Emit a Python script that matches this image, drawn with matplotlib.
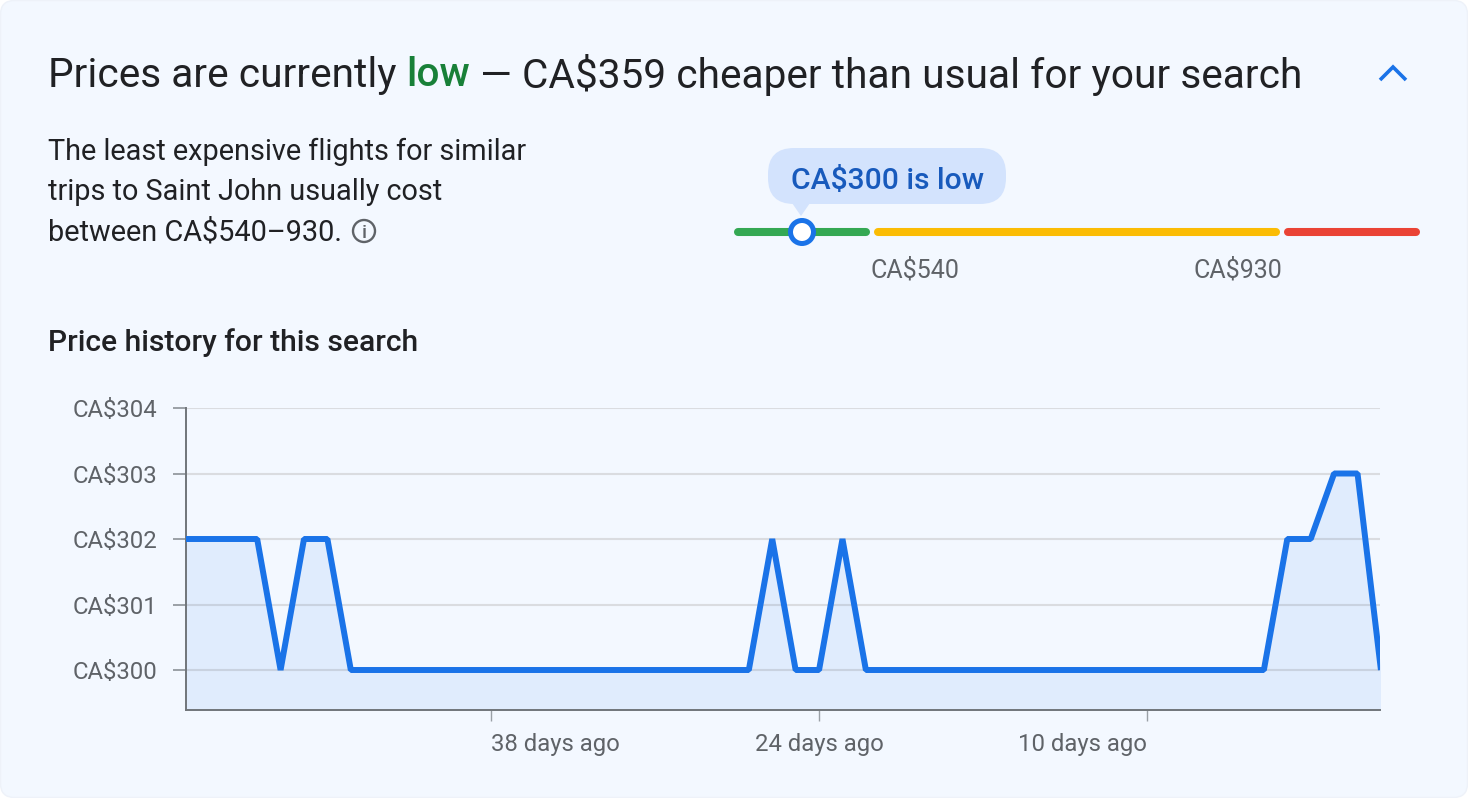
import matplotlib
matplotlib.use("Agg")
import matplotlib.pyplot as plt
from matplotlib.patches import FancyBboxPatch, Circle, Polygon
from matplotlib.ticker import FixedLocator

# ---------- data ----------
days_ago = list(range(52, -1, -1))
prices = [302, 302, 302, 302, 302, 300, 302, 302, 300, 300, 300,
          300, 300, 300, 300, 300, 300, 300, 300, 300, 300,
          300, 300, 300, 300, 300, 302, 300, 300, 302, 300,
          300, 300, 300, 300, 300, 300, 300, 300, 300, 300,
          300, 300, 300, 300, 300, 300, 300, 302, 302, 303,
          303, 300]
y_ticks = [300, 301, 302, 303, 304]
y_labels = ["CA$300", "CA$301", "CA$302", "CA$303", "CA$304"]
x_ticks = [38, 24, 10]
x_labels = ["38 days ago", "24 days ago", "10 days ago"]
title_parts = [("Prices are currently ", "#202124", "normal"), ("low", "#188038", "medium"),
               (" — CA$359 cheaper than usual for your search", "#202124", "normal")]
body_lines = ["The least expensive flights for similar",
              "trips to Saint John usually cost",
              "between CA$540–930."]
bar_segments = [(734, 870, "#34a853"), (874, 1280, "#fbbc04"), (1284, 1420, "#ea4335")]
bar_labels = [(915, "CA$540"), (1238, "CA$930")]

W, H = 1468, 798
FONT = "Roboto"
INK = "#202124"
GREY = "#5f6368"
BLUE = "#1a73e8"
plt.rcParams["font.family"] = [FONT, "DejaVu Sans"]

fig = plt.figure(figsize=(W / 100, H / 100), dpi=100, facecolor="white")

# page overlay in pixel coordinates (y down)
bg = fig.add_axes([0, 0, 1, 1], zorder=0)
bg.set_xlim(0, W)
bg.set_ylim(H, 0)
bg.axis("off")
bg.add_patch(FancyBboxPatch((0.5, 0.5), W - 1, H - 1,
                            boxstyle="round,pad=0,rounding_size=14",
                            fc="#f3f8ff", ec="#eef2f9", lw=1))

# title, assembled piece by piece
renderer = fig.canvas.get_renderer()
TITLE_SIZE = 29.25
x = 48
for txt, col, wt in title_parts:
    t = bg.text(x, 71.5, txt, fontsize=TITLE_SIZE, color=col, va="center_baseline", ha="left", fontweight=wt)
    if txt.endswith(" "):
        probe = bg.text(0, 0, txt + "|", alpha=0, fontsize=TITLE_SIZE)
        bar = bg.text(0, 0, "|", alpha=0, fontsize=TITLE_SIZE)
        x += probe.get_window_extent(renderer).width - bar.get_window_extent(renderer).width
    else:
        x = t.get_window_extent(renderer).x1
bg.plot([1380, 1393, 1406], [80, 67, 80], color=BLUE, lw=2.6, solid_capstyle="butt", solid_joinstyle="miter")

# body copy
for yy, line in zip([149, 189.5, 229.5], body_lines):
    bg.text(48, yy, line, fontsize=20.75, color=INK, va="center_baseline", ha="left")
bg.add_patch(Circle((364, 231), 11, fc="none", ec=GREY, lw=1.7))
bg.text(364, 231, "i", fontsize=14, color=GREY, ha="center", va="center_baseline", fontweight="medium")

# range bar
for x0, x1, col in bar_segments:
    bg.plot([x0 + 4, x1 - 4], [232, 232], color=col, lw=5.8, solid_capstyle="round")
bg.add_patch(FancyBboxPatch((768, 148), 238, 56, boxstyle="round,pad=0,rounding_size=26",
                            fc="#d3e3fd", ec="none"))
bg.add_patch(Polygon([[792, 203], [810, 203], [801, 216]], fc="#d3e3fd", ec="none"))
bg.text(887.5, 178, "CA$300 is low", fontsize=21.6, color="#185abc", ha="center",
        va="center_baseline", fontweight="medium")
bg.add_patch(Circle((802, 232), 11.5, fc="white", ec=BLUE, lw=3.6, zorder=5))
for xx, lab in bar_labels:
    bg.text(xx, 267.5, lab, fontsize=18, color=GREY, ha="center", va="center_baseline")

bg.text(48, 340, "Price history for this search", fontsize=21.6, color=INK,
        va="center_baseline", ha="left", fontweight="medium")

# chart axes: x 186..1380, y 408..710 px
ax = fig.add_axes([186 / W, 1 - 710 / H, (1380 - 186) / W, (710 - 408) / H], zorder=1)
ax.patch.set_alpha(0)
ax.set_xlim(51.04, 0.04)
ax.set_ylim(300 - 40 / 65.5, 304)
ax.fill_between(days_ago, prices, ax.get_ylim()[0], color=BLUE, alpha=0.085, lw=0, zorder=2)
ax.plot(days_ago, prices, color=BLUE, lw=4.3, solid_joinstyle="bevel", zorder=3,
        solid_capstyle="butt")
ax.yaxis.set_major_locator(FixedLocator(y_ticks))
ax.set_yticklabels(y_labels)
ax.xaxis.set_major_locator(FixedLocator(x_ticks))
ax.set_xticklabels(x_labels)
for lab, align in zip(ax.get_xticklabels(), ["left", "center", "right"]):
    lab.set_ha(align)
ax.grid(axis="y", color="#dadce0", lw=1.5, zorder=1)
ax.set_axisbelow(True)
for side in ("top", "right"):
    ax.spines[side].set_visible(False)
for side in ("left", "bottom"):
    ax.spines[side].set_color("#70757a")
    ax.spines[side].set_linewidth(1.4)
ax.tick_params(axis="y", length=9.4, width=1.4, color="#9aa0a6", labelsize=17.2, labelcolor=GREY, pad=11.2)
ax.tick_params(axis="x", length=8, width=1, color="#9aa0a6", labelsize=17.2, labelcolor=GREY, pad=8.5)

fig.savefig("out.png", dpi=100, facecolor="white")
